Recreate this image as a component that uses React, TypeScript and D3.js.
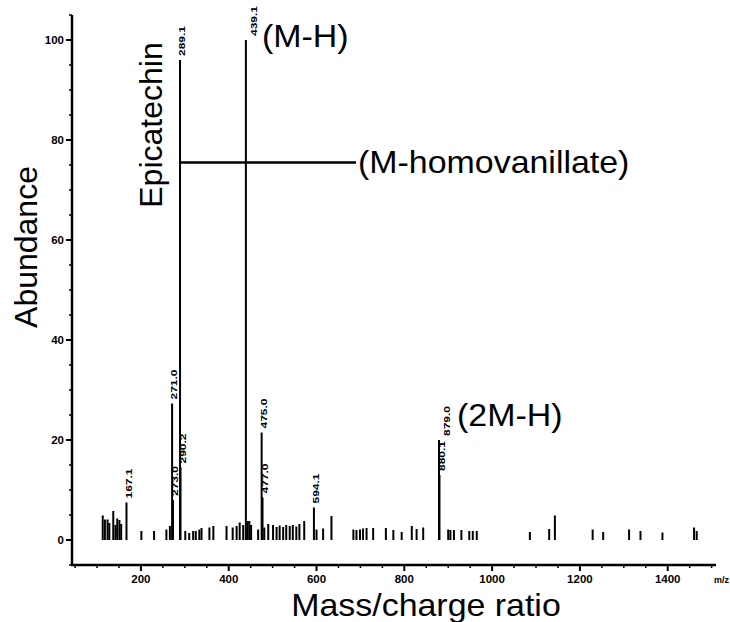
import React from "react";
import * as d3 from "d3";

const W = 730;
const H = 622;

// Labelled peaks (m/z, relative abundance)
const labeledMz = [167.1, 271.0, 273.0, 289.1, 290.2, 439.1, 475.0, 477.0, 594.1, 879.0, 880.1];
const labeledAbund = [7.5, 27.3, 8.0, 96, 14.5, 100, 21.5, 8.5, 6.5, 20, 13];
const labelText = ["167.1", "271.0", "273.0", "289.1", "290.2", "439.1", "475.0", "477.0", "594.1", "879.0", "880.1"];

// Unlabelled small peaks
const minorMz = [
  113, 118, 124, 128, 137, 142, 146, 151, 155, 201, 230, 258, 266,
  301, 310, 319, 325, 333, 338, 356, 365, 395, 409, 418, 425, 433, 443, 447, 451,
  467, 481, 490, 501, 509, 516, 524, 531, 539, 546, 554, 561, 572, 600, 615, 634,
  684, 691, 699, 706, 714, 729, 758, 775, 794, 817, 828, 843,
  900, 905, 913, 930, 948, 956, 965, 1086, 1130, 1143,
  1229, 1253, 1312, 1338, 1388, 1460, 1466,
];
const minorAbund = [
  4.9, 4.1, 4.1, 3.4, 5.8, 3.0, 4.3, 4.0, 3.2, 1.8, 1.8, 2.1, 2.8,
  1.8, 1.4, 1.8, 1.8, 2.1, 2.4, 2.5, 2.8, 2.8, 2.5, 2.8, 3.5, 3.0, 3.8, 3.8, 3.0,
  2.1, 2.5, 3.2, 3.0, 2.6, 2.9, 2.6, 3.0, 2.8, 3.0, 2.7, 3.2, 3.8, 2.1, 2.3, 4.8,
  2.1, 2.0, 2.1, 2.3, 2.4, 2.4, 2.4, 2.0, 1.6, 2.8, 2.2, 2.5,
  2.1, 2.0, 2.0, 2.0, 1.8, 1.8, 1.8, 1.6, 2.2, 4.9,
  2.1, 1.6, 2.1, 1.8, 1.5, 2.5, 1.8,
];

const yTicks = [0, 20, 40, 60, 80, 100];
const xTicks = [200, 400, 600, 800, 1000, 1200, 1400];

// annotation bracket: from 289.1 peak to the text, at abundance 75.5
const bracketMz = [289.1, 690];
const bracketAbund = 75.5;

const FONT = "'Liberation Sans', Arial, Helvetica, sans-serif";

export default function App() {
  const x = d3.scaleLinear().domain([43, 1510]).range([72, 716]);
  const y = d3.scaleLinear().domain([-5, 105]).range([565, 15]);

  const minorY = d3.range(-5, 106, 5).filter((v) => v % 20 !== 0);
  const minorX = d3.range(50, 1510, 50).filter((v) => v % 200 !== 0);

  const labelDx: Record<string, number> = { "439.1": 8, "879.0": 8 };

  const peaks = [
    ...minorMz.map((m, i) => ({ m, a: minorAbund[i] })),
    ...labeledMz.map((m, i) => ({ m, a: labeledAbund[i] })),
  ];

  const big = { fontFamily: FONT, fontSize: 32, fill: "#000" } as const;

  return (
    <svg
      width={W}
      height={H}
      style={{ position: "absolute", left: 0, top: 0, background: "#fff" }}
    >
      {/* peaks */}
      {peaks.map((p, i) => (
        <line
          key={"p" + i}
          x1={x(p.m)}
          x2={x(p.m)}
          y1={y(0)}
          y2={y(p.a)}
          stroke="#000"
          strokeWidth={2}
        />
      ))}

      {/* peak labels */}
      {labeledMz.map((m, i) => {
        const px = x(m) + (labelDx[labelText[i]] ?? 2.5);
        const py = y(labeledAbund[i]) - 4;
        return (
          <text
            key={"l" + i}
            transform={`translate(${px},${py}) rotate(-90) scale(1,0.7)`}
            fontFamily={FONT}
            fontWeight="bold"
            fontSize={12}
            dominantBaseline="central"
            textAnchor="start"
          >
            {labelText[i]}
          </text>
        );
      })}

      {/* bracket line */}
      <line
        x1={x(bracketMz[0])}
        x2={x(bracketMz[1])}
        y1={y(bracketAbund)}
        y2={y(bracketAbund)}
        stroke="#000"
        strokeWidth={2.5}
      />

      {/* axes */}
      <line x1={72} x2={72} y1={y(105)} y2={y(-5)} stroke="#000" strokeWidth={2.5} />
      <line x1={71} x2={716} y1={y(-5)} y2={y(-5)} stroke="#000" strokeWidth={2.5} />

      {yTicks.map((t) => (
        <g key={"yt" + t}>
          <line x1={66} x2={72} y1={y(t)} y2={y(t)} stroke="#000" strokeWidth={2} />
          <text
            x={64}
            y={y(t)}
            textAnchor="end"
            dominantBaseline="central"
            fontFamily={FONT}
            fontWeight="bold"
            fontSize={11.5}
          >
            {t}
          </text>
        </g>
      ))}
      {minorY.map((t) => (
        <line key={"ym" + t} x1={69} x2={72} y1={y(t)} y2={y(t)} stroke="#000" strokeWidth={1.5} />
      ))}

      {xTicks.map((t) => (
        <g key={"xt" + t}>
          <line x1={x(t)} x2={x(t)} y1={y(-5)} y2={y(-5) + 6} stroke="#000" strokeWidth={2} />
          <text
            x={x(t)}
            y={579}
            textAnchor="middle"
            dominantBaseline="central"
            fontFamily={FONT}
            fontWeight="bold"
            fontSize={11.5}
          >
            {t}
          </text>
        </g>
      ))}
      {minorX.map((t) => (
        <line key={"xm" + t} x1={x(t)} x2={x(t)} y1={y(-5)} y2={y(-5) + 3} stroke="#000" strokeWidth={1.5} />
      ))}
      <text x={714} y={580} dominantBaseline="central" fontFamily={FONT} fontWeight="bold" fontSize={9}>
        m/z
      </text>

      {/* annotations */}
      <text transform={`translate(262,47) scale(1.06,1)`} {...big}>
        (M-H)
      </text>
      <text transform={`translate(358,173) scale(1.06,1)`} {...big}>
        (M-homovanillate)
      </text>
      <text transform={`translate(457,426) scale(1.06,1)`} {...big}>
        (2M-H)
      </text>
      <text transform={`translate(162,125) rotate(-90)`} textAnchor="middle" {...big}>
        Epicatechin
      </text>

      {/* axis titles */}
      <text transform={`translate(37,247) rotate(-90)`} textAnchor="middle" {...big}>
        Abundance
      </text>
      <text transform={`translate(426,616) scale(1.06,1)`} textAnchor="middle" {...big}>
        Mass/charge ratio
      </text>
    </svg>
  );
}
